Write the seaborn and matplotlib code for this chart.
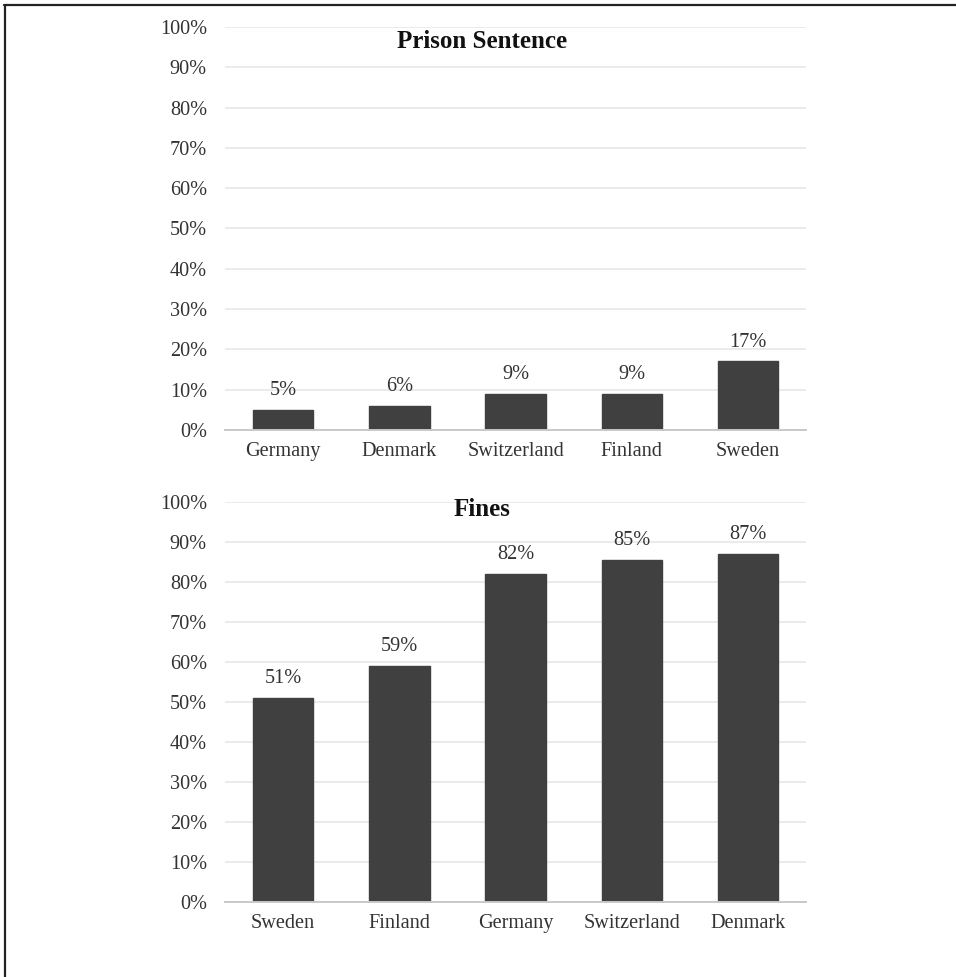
import matplotlib
matplotlib.use("Agg")
import matplotlib.pyplot as plt
import seaborn as sns
import pandas as pd
from matplotlib.lines import Line2D
from matplotlib.ticker import PercentFormatter, MultipleLocator

sns.set_style("white")
plt.rcParams['font.family'] = ['Liberation Serif', 'DejaVu Serif']

prison_countries = ["Germany", "Denmark", "Switzerland", "Finland", "Sweden"]
prison_values = [5, 6, 9, 9, 17]
prison_labels = ["5%", "6%", "9%", "9%", "17%"]

fines_countries = ["Sweden", "Finland", "Germany", "Switzerland", "Denmark"]
fines_values = [51, 59, 82, 85.4, 87]
fines_labels = ["51%", "59%", "82%", "85%", "87%"]

BAR = "#404040"
TXT = "#333333"
GRID = "#e8e8e8"
FS = 14.6

fig = plt.figure(figsize=(9.56, 9.77), dpi=100)
ax1 = fig.add_axes([0.2354, 0.5599, 0.6078, 0.4125])
ax2 = fig.add_axes([0.2354, 0.0768, 0.6078, 0.4094])


def draw(ax, cats, vals, labels, title, ty):
    df = pd.DataFrame({"c": cats, "v": vals})
    sns.barplot(data=df, x="c", y="v", ax=ax, color=BAR, saturation=1,
                width=0.52, edgecolor=BAR)
    ax.set_ylim(0, 100)
    ax.set_xlim(-0.5, len(cats) - 0.5)
    ax.yaxis.set_major_locator(MultipleLocator(10))
    ax.yaxis.set_major_formatter(PercentFormatter(decimals=0))
    ax.set_xlabel("")
    ax.set_ylabel("")
    ax.grid(axis="y", color=GRID, linewidth=1.2)
    ax.set_axisbelow(True)
    for s in ["top", "right", "left"]:
        ax.spines[s].set_visible(False)
    ax.spines["bottom"].set_color("#c8c8c8")
    ax.spines["bottom"].set_linewidth(1.4)
    ax.tick_params(axis="y", length=0, pad=13, labelsize=FS, labelcolor=TXT)
    ax.tick_params(axis="x", length=0, pad=9, labelsize=FS, labelcolor=TXT)
    for p, lab in zip(ax.patches, labels):
        ax.annotate(lab, (p.get_x() + p.get_width() / 2, p.get_height()),
                    xytext=(0, 14), textcoords="offset points",
                    ha="center", va="center", fontsize=FS, color=TXT)
    ax.text(0.442, ty, title, transform=ax.transAxes, ha="center",
            va="center", fontsize=18, fontweight="bold", color="#111111")


draw(ax1, prison_countries, prison_values, prison_labels, "Prison Sentence", 0.965)
draw(ax2, fines_countries, fines_values, fines_labels, "Fines", 0.98)

# frame lines (top and left)
fig.add_artist(Line2D([0.004, 1.0], [0.9953, 0.9953], transform=fig.transFigure,
                      color="#222222", linewidth=1.6))
fig.add_artist(Line2D([0.005, 0.005], [0.0, 0.9953], transform=fig.transFigure,
                      color="#222222", linewidth=1.6))

fig.savefig("out.png", dpi=100, facecolor="white")
